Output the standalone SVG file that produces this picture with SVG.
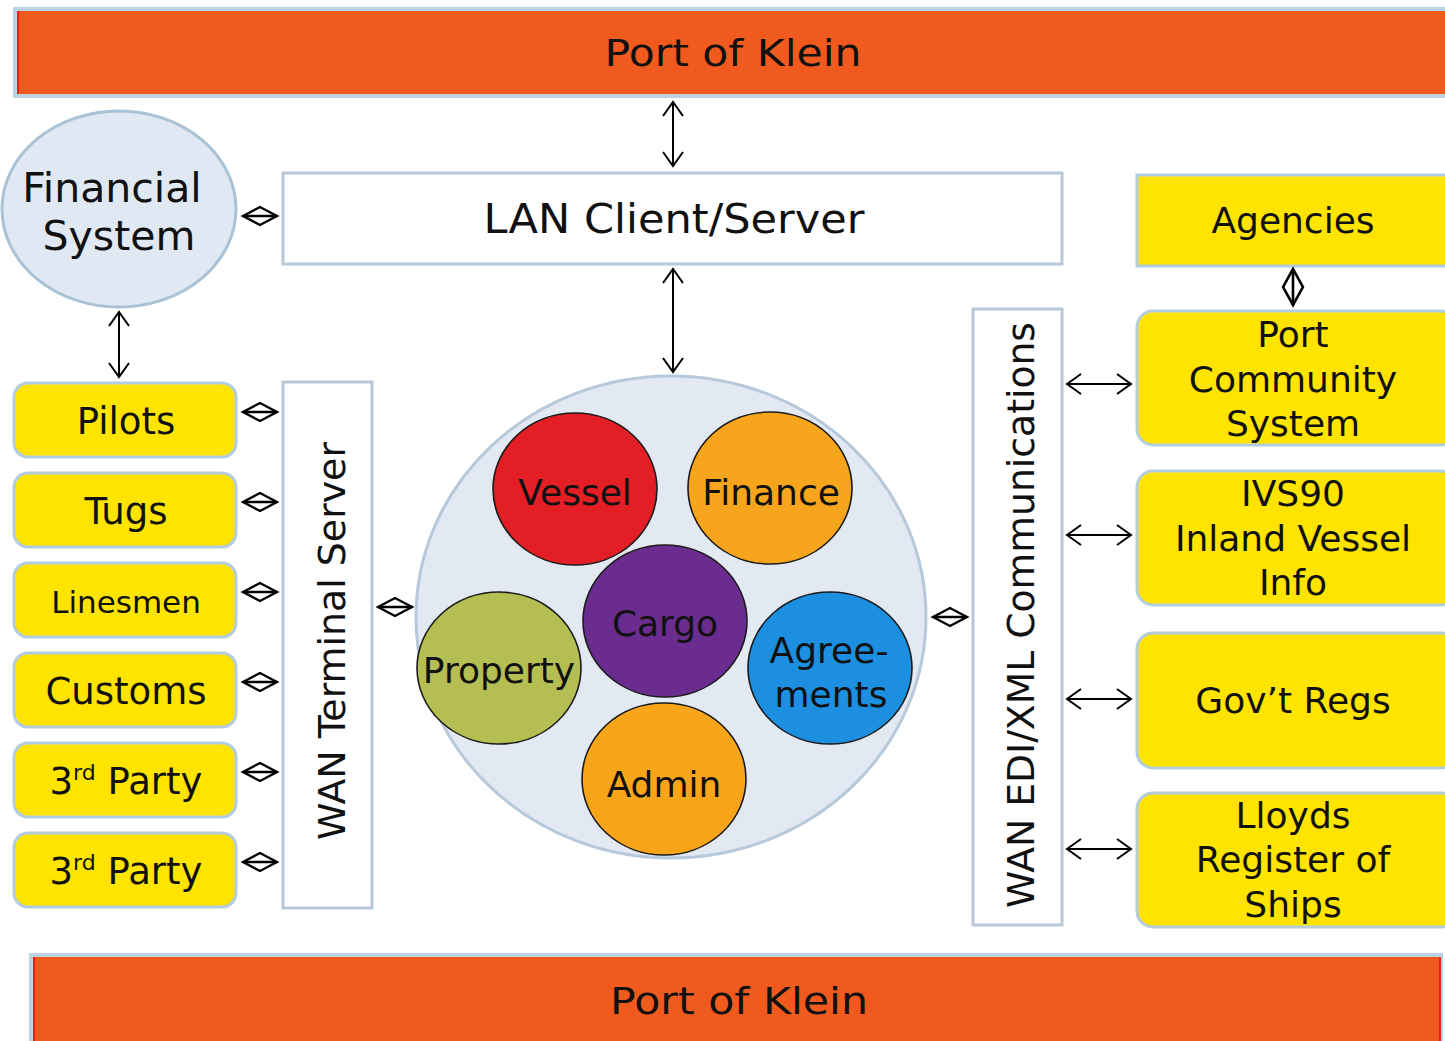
<svg xmlns="http://www.w3.org/2000/svg" xmlns:xlink="http://www.w3.org/1999/xlink" width="1445" height="1041" viewBox="0 0 1445 1041">
<style>
.t{font-family:"DejaVu Sans",Verdana,"Liberation Sans",sans-serif;fill:#111;text-anchor:middle}
.yb{fill:#ffe400;stroke:#b3cde0;stroke-width:3}
.wb{fill:#fff;stroke:#b7c8d8;stroke-width:3}
.ban{fill:#f05a1f;stroke:#bcd3e2;stroke-width:4}
.arr{stroke:#000;stroke-width:2;fill:none;marker-start:url(#ah);marker-end:url(#ah)}
.dia{fill:none;stroke:#000;stroke-width:2.4;stroke-linejoin:miter}
.mod{stroke:#1a1a1a;stroke-width:1.6}
</style>
<defs>
<marker id="ah" viewBox="-16 -12 18 24" refX="0" refY="0" markerWidth="18" markerHeight="24" markerUnits="userSpaceOnUse" orient="auto-start-reverse">
<path d="M-14,-10 L0,0 L-14,10" fill="none" stroke="#000" stroke-width="2"/>
</marker>
<g id="dia" class="dia">
<polygon points="-17,0 0,-9 17,0 0,9"/>
<line x1="-17" y1="0" x2="17" y2="0"/>
</g>
</defs>
<rect width="1445" height="1041" fill="#fff"/>

<g id="banner-top">
<rect class="ban" x="15" y="9" width="1440" height="87"/>
<line x1="18" y1="11" x2="18" y2="94" stroke="#e8221a" stroke-width="2"/>
<text class="t" x="733" y="66" font-size="38" textLength="257" lengthAdjust="spacingAndGlyphs">Port of Klein</text>
</g>
<g id="banner-bottom">
<rect class="ban" x="31" y="955" width="1410" height="95"/>
<line x1="1440" y1="957" x2="1440" y2="1041" stroke="#e8221a" stroke-width="2"/>
<line x1="34" y1="957" x2="34" y2="1041" stroke="#e8221a" stroke-width="2"/>
<text class="t" x="739" y="1014" font-size="38" textLength="258" lengthAdjust="spacingAndGlyphs">Port of Klein</text>
</g>

<g id="financial-system">
<ellipse cx="119" cy="209" rx="117" ry="98" fill="#dfe8f3" stroke="#a9c2d6" stroke-width="3"/>
<text class="t" x="112" y="202" font-size="41">Financial</text>
<text class="t" x="119" y="250" font-size="41">System</text>
</g>

<g id="lan">
<rect class="wb" x="283" y="173" width="779" height="91"/>
<text class="t" x="674" y="233" font-size="41" textLength="381" lengthAdjust="spacingAndGlyphs">LAN Client/Server</text>
</g>

<g id="agencies">
<rect class="yb" x="1137" y="175" width="320" height="91"/>
<text class="t" x="1293" y="233" font-size="36">Agencies</text>
</g>
<g id="pcs">
<rect class="yb" x="1137" y="311" width="320" height="134" rx="16"/>
<text class="t" x="1293" y="347" font-size="36">Port</text>
<text class="t" x="1293" y="392" font-size="36">Community</text>
<text class="t" x="1293" y="436" font-size="36">System</text>
</g>
<g id="ivs90">
<rect class="yb" x="1137" y="471" width="320" height="134" rx="16"/>
<text class="t" x="1293" y="506" font-size="36">IVS90</text>
<text class="t" x="1293" y="551" font-size="36">Inland Vessel</text>
<text class="t" x="1293" y="595" font-size="36">Info</text>
</g>
<g id="govregs">
<rect class="yb" x="1137" y="633" width="320" height="135" rx="16"/>
<text class="t" x="1293" y="713" font-size="36">Gov’t Regs</text>
</g>
<g id="lloyds">
<rect class="yb" x="1137" y="793" width="320" height="134" rx="16"/>
<text class="t" x="1293" y="828" font-size="36">Lloyds</text>
<text class="t" x="1293" y="872" font-size="36">Register of</text>
<text class="t" x="1293" y="917" font-size="36">Ships</text>
</g>

<g id="wan-edi">
<rect class="wb" x="973" y="309" width="89" height="616"/>
<text class="t" transform="translate(1034,615) rotate(-90)" x="0" y="0" font-size="38" textLength="586" lengthAdjust="spacingAndGlyphs">WAN EDI/XML Communications</text>
</g>
<g id="wan-terminal">
<rect class="wb" x="283" y="382" width="89" height="526"/>
<text class="t" transform="translate(345,641) rotate(-90)" x="0" y="0" font-size="38" textLength="398" lengthAdjust="spacingAndGlyphs">WAN Terminal Server</text>
</g>

<g id="pilots">
<rect class="yb" x="14" y="383" width="222" height="74" rx="14"/>
<text class="t" x="126" y="434" font-size="37">Pilots</text>
</g>
<g id="tugs">
<rect class="yb" x="14" y="473" width="222" height="74" rx="14"/>
<text class="t" x="126" y="524" font-size="37">Tugs</text>
</g>
<g id="linesmen">
<rect class="yb" x="14" y="563" width="222" height="74" rx="14"/>
<text class="t" x="126" y="613" font-size="31">Linesmen</text>
</g>
<g id="customs">
<rect class="yb" x="14" y="653" width="222" height="74" rx="14"/>
<text class="t" x="126" y="704" font-size="37">Customs</text>
</g>
<g id="third-party-1">
<rect class="yb" x="14" y="743" width="222" height="74" rx="14"/>
<text class="t" x="126" y="794" font-size="37">3<tspan font-size="22" dy="-14">rd</tspan><tspan dy="14"> Party</tspan></text>
</g>
<g id="third-party-2">
<rect class="yb" x="14" y="833" width="222" height="74" rx="14"/>
<text class="t" x="126" y="884" font-size="37">3<tspan font-size="22" dy="-14">rd</tspan><tspan dy="14"> Party</tspan></text>
</g>

<g id="core">
<ellipse cx="671" cy="617" rx="255" ry="241" fill="#e2e9f2" stroke="#b5c9da" stroke-width="3"/>
</g>
<g id="vessel">
<ellipse class="mod" cx="575" cy="489" rx="82" ry="76" fill="#e31e24"/>
<text class="t" x="575" y="505" font-size="36">Vessel</text>
</g>
<g id="finance">
<ellipse class="mod" cx="770" cy="488" rx="82" ry="76" fill="#f7a51c"/>
<text class="t" x="771" y="505" font-size="36">Finance</text>
</g>
<g id="cargo">
<ellipse class="mod" cx="665" cy="621" rx="82" ry="76" fill="#6a2c8e"/>
<text class="t" x="665" y="636" font-size="36">Cargo</text>
</g>
<g id="property">
<ellipse class="mod" cx="499" cy="668" rx="82" ry="76" fill="#b5be52"/>
<text class="t" x="499" y="683" font-size="36">Property</text>
</g>
<g id="agreements">
<ellipse class="mod" cx="830" cy="668" rx="82" ry="76" fill="#1d8fe0"/>
<text class="t" x="829" y="663" font-size="36">Agree-</text>
<text class="t" x="831" y="707" font-size="36">ments</text>
</g>
<g id="admin">
<ellipse class="mod" cx="664" cy="779" rx="82" ry="76" fill="#f9a51a"/>
<text class="t" x="664" y="797" font-size="36">Admin</text>
</g>

<g id="connectors">
<line class="arr" x1="673" y1="102" x2="673" y2="166"/>
<line class="arr" x1="673" y1="269" x2="673" y2="372"/>
<line class="arr" x1="119" y1="312" x2="119" y2="377"/>
<line class="arr" x1="1067" y1="384" x2="1131" y2="384"/>
<line class="arr" x1="1067" y1="535" x2="1131" y2="535"/>
<line class="arr" x1="1067" y1="699" x2="1131" y2="699"/>
<line class="arr" x1="1067" y1="849" x2="1131" y2="849"/>
<use xlink:href="#dia" href="#dia" transform="translate(260,216)"/>
<use xlink:href="#dia" href="#dia" transform="translate(260,412)"/>
<use xlink:href="#dia" href="#dia" transform="translate(260,502)"/>
<use xlink:href="#dia" href="#dia" transform="translate(260,592)"/>
<use xlink:href="#dia" href="#dia" transform="translate(260,682)"/>
<use xlink:href="#dia" href="#dia" transform="translate(260,772)"/>
<use xlink:href="#dia" href="#dia" transform="translate(260,862)"/>
<use xlink:href="#dia" href="#dia" transform="translate(395,607)"/>
<use xlink:href="#dia" href="#dia" transform="translate(950,617)"/>
<use xlink:href="#dia" href="#dia" transform="translate(1293,287) rotate(90) scale(1.06,1.1)"/>
</g>
</svg>
